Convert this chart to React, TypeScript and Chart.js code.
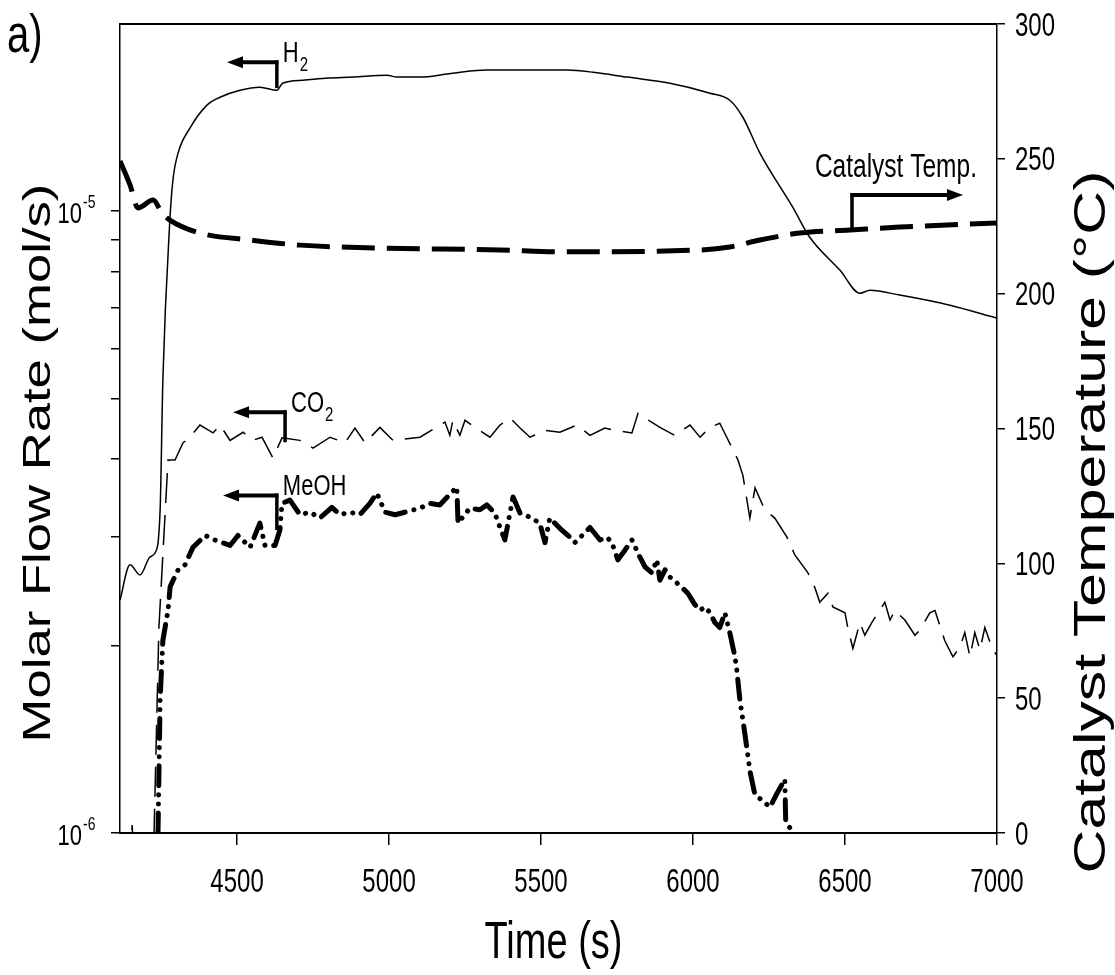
import React, { useEffect, useRef } from "react";
import { Chart, registerables } from "chart.js";

Chart.register(...registerables);

// ---------- data ----------
const timeTicks = [4500, 5000, 5500, 6000, 6500, 7000];
const tempTicks = [0, 50, 100, 150, 200, 250, 300];
const flowDecades = [1e-6, 1e-5];
const flowMinor = [2e-6, 3e-6, 4e-6, 5e-6, 6e-6, 7e-6, 8e-6, 9e-6];

const h2Time = [4115, 4148, 4181, 4214, 4230, 4247, 4256, 4279, 4289, 4306, 4345, 4401, 4444, 4510, 4575, 4631, 4650, 4717, 4800, 4881, 4993, 5026, 5100, 5210, 5322, 5450, 5585, 5671, 5783, 5924, 6056, 6121, 6164, 6220, 6328, 6384, 6483, 6549, 6582, 6680, 6845, 7000];
const h2Flow = [2.37e-6, 2.7e-6, 2.6e-6, 2.78e-6, 2.82e-6, 3.31e-6, 5.35e-6, 9.67e-6, 1.121e-5, 1.24e-5, 1.36e-5, 1.481e-5, 1.525e-5, 1.565e-5, 1.583e-5, 1.565e-5, 1.606e-5, 1.624e-5, 1.637e-5, 1.643e-5, 1.655e-5, 1.643e-5, 1.643e-5, 1.667e-5, 1.686e-5, 1.686e-5, 1.686e-5, 1.673e-5, 1.643e-5, 1.606e-5, 1.548e-5, 1.508e-5, 1.416e-5, 1.24e-5, 1.015e-5, 9.08e-6, 8.04e-6, 7.38e-6, 7.46e-6, 7.33e-6, 7.06e-6, 6.73e-6];

const co2Time = [4115, 4150, 4155, 4160, 4225, 4227, 4243, 4273, 4296, 4322, 4345, 4378, 4421, 4444, 4477, 4520, 4552, 4582, 4618, 4648, 4707, 4750, 4806, 4855, 4888, 4921, 4970, 5013, 5102, 5184, 5200, 5210, 5233, 5250, 5283, 5332, 5365, 5398, 5431, 5464, 5513, 5562, 5618, 5661, 5710, 5743, 5799, 5819, 5891, 5940, 5990, 6023, 6056, 6088, 6111, 6148, 6164, 6187, 6204, 6236, 6269, 6309, 6335, 6378, 6401, 6417, 6444, 6460, 6500, 6509, 6526, 6549, 6565, 6588, 6631, 6648, 6664, 6697, 6730, 6746, 6779, 6796, 6828, 6855, 6878, 6894, 6911, 6927, 6944, 6960, 6986, 7000];
const co2Flow = [9e-7, 9e-7, 1.03e-6, 9e-7, 9e-7, 1e-6, 2.14e-6, 3.98e-6, 3.98e-6, 4.24e-6, 4.33e-6, 4.53e-6, 4.4e-6, 4.53e-6, 4.28e-6, 4.41e-6, 4.28e-6, 4.33e-6, 4.01e-6, 4.32e-6, 4.28e-6, 4.16e-6, 4.33e-6, 4.24e-6, 4.48e-6, 4.24e-6, 4.49e-6, 4.28e-6, 4.33e-6, 4.58e-6, 4.36e-6, 4.61e-6, 4.36e-6, 4.61e-6, 4.49e-6, 4.33e-6, 4.53e-6, 4.65e-6, 4.48e-6, 4.33e-6, 4.44e-6, 4.41e-6, 4.53e-6, 4.36e-6, 4.48e-6, 4.44e-6, 4.4e-6, 4.73e-6, 4.49e-6, 4.36e-6, 4.53e-6, 4.33e-6, 4.49e-6, 4.56e-6, 4.33e-6, 3.98e-6, 3.76e-6, 3.21e-6, 3.59e-6, 3.31e-6, 3.21e-6, 2.99e-6, 2.8e-6, 2.62e-6, 2.48e-6, 2.35e-6, 2.43e-6, 2.31e-6, 2.26e-6, 2.14e-6, 1.98e-6, 2.18e-6, 2.08e-6, 2.18e-6, 2.35e-6, 2.2e-6, 2.28e-6, 2.2e-6, 2.08e-6, 2.12e-6, 2.26e-6, 2.28e-6, 2.04e-6, 1.92e-6, 1.99e-6, 2.1e-6, 1.92e-6, 2.1e-6, 1.97e-6, 2.14e-6, 1.97e-6, 1.93e-6];

const meohTime = [4240, 4247, 4256, 4273, 4280, 4306, 4329, 4355, 4395, 4427, 4477, 4503, 4543, 4575, 4592, 4625, 4641, 4648, 4674, 4707, 4740, 4773, 4812, 4839, 4871, 4904, 4937, 4960, 4987, 5020, 5052, 5102, 5135, 5167, 5223, 5227, 5266, 5299, 5322, 5348, 5365, 5381, 5408, 5431, 5464, 5496, 5513, 5529, 5562, 5595, 5611, 5644, 5661, 5694, 5717, 5733, 5753, 5776, 5799, 5825, 5842, 5865, 5881, 5891, 5908, 5924, 5957, 5983, 6006, 6023, 6039, 6056, 6072, 6088, 6105, 6121, 6138, 6144, 6154, 6171, 6187, 6204, 6227, 6253, 6273, 6302, 6305, 6332];
const meohFlow = [1e-6, 1.64e-6, 2.04e-6, 2.28e-6, 2.49e-6, 2.65e-6, 2.7e-6, 2.88e-6, 3.01e-6, 2.96e-6, 2.9e-6, 3.01e-6, 2.88e-6, 3.15e-6, 2.9e-6, 2.9e-6, 3.07e-6, 3.39e-6, 3.43e-6, 3.25e-6, 3.28e-6, 3.21e-6, 3.34e-6, 3.25e-6, 3.28e-6, 3.25e-6, 3.39e-6, 3.52e-6, 3.28e-6, 3.25e-6, 3.28e-6, 3.33e-6, 3.39e-6, 3.37e-6, 3.6e-6, 3.15e-6, 3.33e-6, 3.31e-6, 3.37e-6, 3.27e-6, 3.1e-6, 2.96e-6, 3.47e-6, 3.27e-6, 3.22e-6, 3.15e-6, 2.93e-6, 3.21e-6, 3.09e-6, 2.99e-6, 2.93e-6, 3.04e-6, 3.1e-6, 2.96e-6, 2.99e-6, 2.93e-6, 2.75e-6, 2.85e-6, 2.96e-6, 2.78e-6, 2.68e-6, 2.62e-6, 2.75e-6, 2.55e-6, 2.65e-6, 2.58e-6, 2.5e-6, 2.43e-6, 2.33e-6, 2.28e-6, 2.31e-6, 2.26e-6, 2.18e-6, 2.14e-6, 2.26e-6, 2.1e-6, 1.92e-6, 1.83e-6, 1.64e-6, 1.44e-6, 1.26e-6, 1.15e-6, 1.13e-6, 1.1e-6, 1.15e-6, 1.22e-6, 1.04e-6, 1e-6];

const tempTime = [4115, 4148, 4174, 4224, 4253, 4279, 4378, 4543, 4707, 4970, 5365, 5562, 6023, 6121, 6220, 6352, 6516, 6680, 7000];
const tempValue = [249.2, 240.3, 231.8, 234.7, 229.9, 227.3, 222.5, 219.9, 218.0, 216.9, 216.2, 215.5, 216.2, 217.3, 219.9, 222.5, 223.6, 224.7, 226.2];

// annotation labels (anchored in data coordinates)
const flowLabels = [
  { text: "H", sub: "2", tipX: 4467, elbowX: 4631, armY: 1.736e-5, footY: 1.577e-5 },
  { text: "CO", sub: "2", tipX: 4487, elbowX: 4658, armY: 4.75e-6, footY: 4.25e-6 },
  { text: "MeOH", sub: "", tipX: 4454, elbowX: 4631, armY: 3.49e-6, footY: 3.07e-6 },
];
const tempLabel = { text: "Catalyst Temp.", textX: 6401, textY: 243.3, elbowX: 6523, armY: 236.6, footY: 223.6, tipX: 6888 };

const FONT = '"Liberation Sans", Arial, sans-serif';
const SY = 1.35;

const pairs = (xs: number[], ys: number[]) => xs.map((x, i) => ({ x, y: ys[i] }));

function hText(ctx: CanvasRenderingContext2D, text: string, x: number, y: number, size: number, align: CanvasTextAlign = "left") {
  ctx.save();
  ctx.translate(x, y);
  ctx.scale(1, SY);
  ctx.font = `${size}px ${FONT}`;
  ctx.textAlign = align;
  ctx.textBaseline = "alphabetic";
  ctx.fillText(text, 0, 0);
  ctx.restore();
}

function vText(ctx: CanvasRenderingContext2D, text: string, x: number, y: number, size: number) {
  ctx.save();
  ctx.translate(x, y);
  ctx.rotate(-Math.PI / 2);
  ctx.scale(SY, 1);
  ctx.font = `${size}px ${FONT}`;
  ctx.textAlign = "center";
  ctx.textBaseline = "alphabetic";
  ctx.fillText(text, 0, 0);
  ctx.restore();
}

function arrow(ctx: CanvasRenderingContext2D, fromX: number, y: number, tipX: number) {
  const dir = tipX > fromX ? 1 : -1;
  const head = 16;
  ctx.lineWidth = 4;
  ctx.beginPath();
  ctx.moveTo(fromX, y);
  ctx.lineTo(tipX - dir * head + dir * 2, y);
  ctx.stroke();
  ctx.beginPath();
  ctx.moveTo(tipX, y);
  ctx.lineTo(tipX - dir * head, y - 6);
  ctx.lineTo(tipX - dir * head, y + 6);
  ctx.closePath();
  ctx.fill();
}

const decorPlugin = {
  id: "decor",
  afterDraw(chart: any) {
    const { ctx, chartArea } = chart;
    const xs = chart.scales.x;
    const yl = chart.scales.y;
    const yr = chart.scales.y2;
    ctx.save();
    ctx.fillStyle = "#000";
    ctx.strokeStyle = "#000";

    // top frame
    ctx.lineWidth = 2;
    ctx.beginPath();
    ctx.moveTo(chartArea.left, chartArea.top);
    ctx.lineTo(chartArea.right, chartArea.top);
    ctx.stroke();

    // x tick labels
    timeTicks.forEach((v) => hText(ctx, String(v), xs.getPixelForValue(v), chartArea.bottom + 59, 24, "center"));
    // right tick labels
    tempTicks.forEach((v) => hText(ctx, String(v), chartArea.right + 18, yr.getPixelForValue(v) + 11.5, 24, "left"));
    // left tick labels 10^n
    flowDecades.forEach((v) => {
      const y = yl.getPixelForValue(v);
      const e = Math.round(Math.log10(v));
      hText(ctx, "10", chartArea.left - 38, y + 12, 22, "right");
      hText(ctx, String(e), chartArea.left - 37, y - 3, 14, "left");
    });

    // axis titles
    hText(ctx, "Time (s)", (chartArea.left + chartArea.right) / 2 - 5, 958, 38, "center");
    vText(ctx, "Molar Flow Rate (mol/s)", 50, 463, 39);
    vText(ctx, "Catalyst Temperature (\u00B0C)", 1105, 522, 45);

    // panel label
    hText(ctx, "a)", 7, 52, 40, "left");

    // flow annotations (arrows to the left axis)
    flowLabels.forEach((a) => {
      const ex = xs.getPixelForValue(a.elbowX);
      const tx = xs.getPixelForValue(a.tipX);
      const ay = yl.getPixelForValue(a.armY);
      const fy = yl.getPixelForValue(a.footY);
      ctx.lineWidth = 3.5;
      ctx.beginPath();
      ctx.moveTo(ex, ay - 2);
      ctx.lineTo(ex, fy);
      ctx.stroke();
      arrow(ctx, ex + 1.5, ay, tx);
      hText(ctx, a.text, ex + 6, ay, 22, "left");
      if (a.sub) {
        ctx.save();
        ctx.font = `22px ${FONT}`;
        const w = ctx.measureText(a.text).width;
        ctx.restore();
        hText(ctx, a.sub, ex + 6 + w + 1, ay + 9, 15, "left");
      }
    });

    // temperature annotation (arrow to the right axis)
    {
      const ex = xs.getPixelForValue(tempLabel.elbowX);
      const tx = xs.getPixelForValue(tempLabel.tipX);
      const ay = yr.getPixelForValue(tempLabel.armY);
      const fy = yr.getPixelForValue(tempLabel.footY);
      ctx.lineWidth = 3.5;
      ctx.beginPath();
      ctx.moveTo(ex, fy);
      ctx.lineTo(ex, ay - 2);
      ctx.stroke();
      arrow(ctx, ex - 1.5, ay, tx);
      hText(ctx, tempLabel.text, xs.getPixelForValue(tempLabel.textX), yr.getPixelForValue(tempLabel.textY), 24.5, "left");
    }
    ctx.restore();
  },
};

export default function App() {
  const ref = useRef<HTMLCanvasElement | null>(null);
  useEffect(() => {
    if (!ref.current) return;
    const chart = new Chart(ref.current, {
      type: "line",
      data: {
        datasets: [
          {
            label: "H2",
            data: pairs(h2Time, h2Flow),
            yAxisID: "y",
            borderColor: "#000",
            borderWidth: 1.5,
            pointRadius: 0,
            cubicInterpolationMode: "monotone",
          },
          {
            label: "CO2",
            data: pairs(co2Time, co2Flow),
            yAxisID: "y",
            borderColor: "#000",
            borderWidth: 1.5,
            borderDash: [30, 12],
            pointRadius: 0,
            tension: 0,
          },
          {
            label: "MeOH",
            data: pairs(meohTime, meohFlow),
            yAxisID: "y",
            borderColor: "#000",
            borderWidth: 5,
            borderDash: [20, 9, 0.1, 9, 0.1, 9],
            borderCapStyle: "round",
            borderJoinStyle: "round",
            pointRadius: 0,
            tension: 0,
          },
          {
            label: "Catalyst Temp.",
            data: pairs(tempTime, tempValue),
            yAxisID: "y2",
            borderColor: "#000",
            borderWidth: 5,
            borderDash: [33, 12],
            pointRadius: 0,
            cubicInterpolationMode: "monotone",
          },
        ],
      },
      options: {
        responsive: false,
        animation: false,
        devicePixelRatio: 1,
        layout: { padding: { top: 24, left: 0, right: 0, bottom: 0 } },
        plugins: { legend: { display: false }, tooltip: { enabled: false } },
        scales: {
          x: {
            type: "linear",
            min: 4115,
            max: 7000,
            afterFit: (s: any) => { s.height = 142; },
            afterBuildTicks: (s: any) => { s.ticks = timeTicks.map((v) => ({ value: v })); },
            ticks: { callback: () => "", autoSkip: false },
            grid: { drawOnChartArea: false, drawTicks: true, tickLength: 12, color: "#000", lineWidth: 1.5 },
            border: { display: true, color: "#000", width: 2 },
          },
          y: {
            type: "logarithmic",
            position: "left",
            min: 1e-6,
            max: 2e-5,
            afterFit: (s: any) => { s.width = 120; },
            afterBuildTicks: (s: any) => {
              s.ticks = [...flowDecades, ...flowMinor].sort((a, b) => a - b).map((v) => ({ value: v }));
            },
            ticks: { callback: () => "", autoSkip: false },
            grid: { drawOnChartArea: false, drawTicks: true, tickLength: 9, color: "#000", lineWidth: 1.5 },
            border: { display: true, color: "#000", width: 1.5 },
          },
          y2: {
            type: "linear",
            position: "right",
            min: 0,
            max: 300,
            afterFit: (s: any) => { s.width = 118; },
            afterBuildTicks: (s: any) => { s.ticks = tempTicks.map((v) => ({ value: v })); },
            ticks: { callback: () => "", autoSkip: false },
            grid: { drawOnChartArea: false, drawTicks: true, tickLength: 8, color: "#000", lineWidth: 1.5 },
            border: { display: true, color: "#000", width: 1.5 },
          },
        },
      },
      plugins: [decorPlugin],
    } as any);
    return () => chart.destroy();
  }, []);

  return (
    <div style={{ position: "absolute", left: 0, top: 0, width: 1115, height: 975, background: "#fff" }}>
      <canvas ref={ref} width={1115} height={975} style={{ width: 1115, height: 975, display: "block" }} />
    </div>
  );
}
